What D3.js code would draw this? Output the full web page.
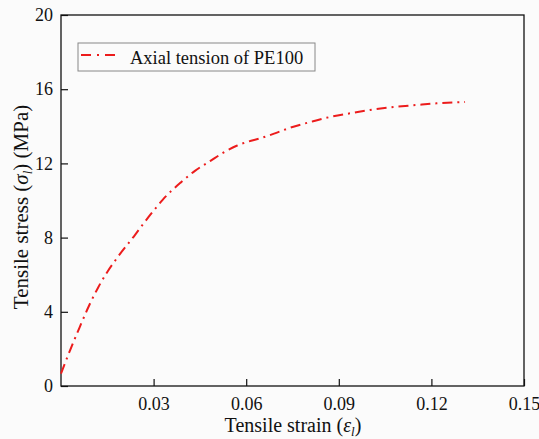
<!DOCTYPE html>
<html>
<head>
<meta charset="utf-8">
<script src="https://cdn.jsdelivr.net/npm/d3@7"></script>
<style>
  body { margin: 0; background: #fbfbfb; }
  svg { display: block; }
</style>
</head>
<body>
<script>
// strain values
var strain = [0, 0.003, 0.006, 0.009, 0.012, 0.015, 0.0186, 0.024, 0.0267, 0.03,
  0.033, 0.039, 0.0434, 0.0483, 0.0526, 0.0569, 0.0602, 0.0645, 0.0693, 0.0742,
  0.0817, 0.0871, 0.0936, 0.1001, 0.1077, 0.1152, 0.1217, 0.1309];
// stress values, MPa
var stress = [0.67, 1.95, 3.15, 4.3, 5.3, 6.15, 7.0, 8.15, 8.75, 9.45,
  10.05, 11.0, 11.6, 12.12, 12.58, 12.95, 13.15, 13.35, 13.62, 13.92,
  14.27, 14.5, 14.7, 14.88, 15.04, 15.15, 15.24, 15.31];

var xTicks = [0.03, 0.06, 0.09, 0.12, 0.15];
var yTicks = [0, 4, 8, 12, 16, 20];
var seriesName = "Axial tension of PE100";

var W = 539, H = 439;
var margin = {top: 15, right: 15, bottom: 53, left: 61};
var serif = "'Liberation Serif'";

var svg = d3.select("body").append("svg")
    .attr("width", W)
    .attr("height", H);

var x = d3.scaleLinear().domain([0, 0.15]).range([margin.left, W - margin.right]);
var y = d3.scaleLinear().domain([0, 20]).range([H - margin.bottom, margin.top]);

function styleAxis(g) {
  g.attr("font-family", serif);
  g.select(".domain").remove();
  g.selectAll("line").attr("stroke", "#111").attr("stroke-width", 1.2);
  g.selectAll("text").attr("font-size", 18).attr("fill", "#111");
}

// axes, ticks pointing inward
svg.append("g")
    .attr("transform", "translate(0," + y(0) + ")")
    .call(d3.axisBottom(x).tickValues(xTicks).tickSizeInner(-7).tickSizeOuter(0).tickPadding(11)
      .tickFormat(d3.format(".2f")))
    .call(styleAxis);

svg.append("g")
    .attr("transform", "translate(" + x(0) + ",0)")
    .call(d3.axisLeft(y).tickValues(yTicks).tickSizeInner(-7).tickSizeOuter(0).tickPadding(8))
    .call(styleAxis);

// frame
svg.append("rect")
    .attr("x", x(0)).attr("y", y(20))
    .attr("width", x(0.15) - x(0)).attr("height", y(0) - y(20))
    .attr("fill", "none").attr("stroke", "#111").attr("stroke-width", 1.3);

// curve
var pts = strain.map(function(s, i) { return [s, stress[i]]; });
var line = d3.line()
    .x(function(d) { return x(d[0]); })
    .y(function(d) { return y(d[1]); })
    .curve(d3.curveMonotoneX);

svg.append("path")
    .datum(pts)
    .attr("d", line)
    .attr("fill", "none")
    .attr("stroke", "#ec1c1c")
    .attr("stroke-width", 2)
    .attr("stroke-dasharray", "10,5,2,5");

// legend
var lg = svg.append("g").attr("font-family", serif);
lg.append("rect")
    .attr("x", 78).attr("y", 43).attr("width", 237).attr("height", 28)
    .attr("fill", "none").attr("stroke", "#888").attr("stroke-width", 1);
lg.append("line")
    .attr("x1", 81).attr("x2", 115).attr("y1", 55).attr("y2", 55)
    .attr("stroke", "#ec1c1c").attr("stroke-width", 2)
    .attr("stroke-dasharray", "10,6,2,6");
lg.append("text")
    .attr("x", 130).attr("y", 63.5)
    .attr("font-size", 18.5)
    .attr("fill", "#111")
    .text(seriesName);

// axis titles
var xt = svg.append("text")
    .attr("x", 293).attr("y", 432)
    .attr("text-anchor", "middle")
    .attr("font-family", serif)
    .attr("font-size", 20)
    .attr("fill", "#111");
xt.append("tspan").text("Tensile strain (");
xt.append("tspan").attr("font-style", "italic").text("ε");
xt.append("tspan").attr("font-style", "italic").attr("font-size", 13).attr("dy", 4).text("l");
xt.append("tspan").attr("dy", -4).text(")");

var yt = svg.append("text")
    .attr("transform", "translate(28,207) rotate(-90)")
    .attr("text-anchor", "middle")
    .attr("font-family", serif)
    .attr("font-size", 21)
    .attr("fill", "#111");
yt.append("tspan").text("Tensile stress (");
yt.append("tspan").attr("font-style", "italic").text("σ");
yt.append("tspan").attr("font-style", "italic").attr("font-size", 13).attr("dy", 4).text("l");
yt.append("tspan").attr("dy", -4).text(") (MPa)");
</script>
</body>
</html>
